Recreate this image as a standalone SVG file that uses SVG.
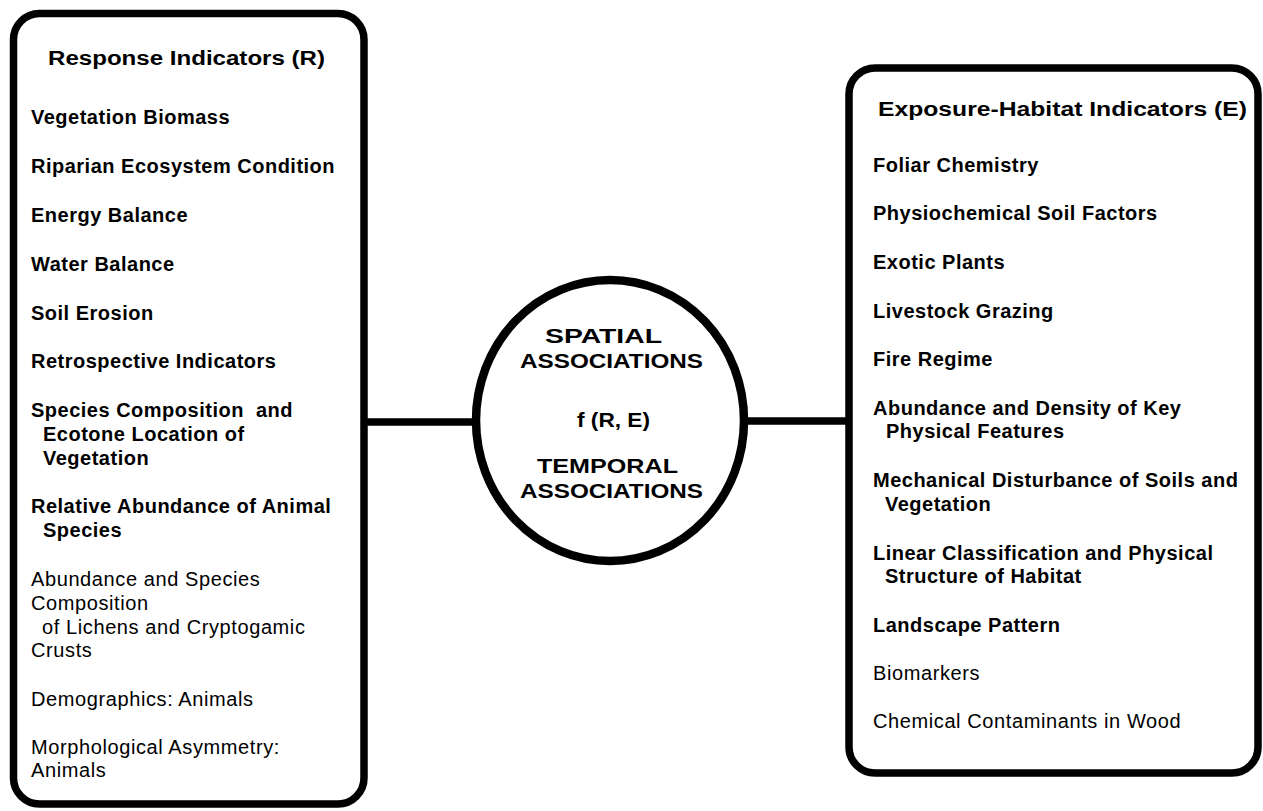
<svg xmlns="http://www.w3.org/2000/svg" width="1263" height="811" viewBox="0 0 1263 811">
  <style>
    .frame { fill: #ffffff; stroke: #000000; stroke-width: 7.5; }
    .hub { fill: #ffffff; stroke: #000000; stroke-width: 8.5; }
    .link { stroke: #000000; stroke-width: 7.5; fill: none; }
    text { font-family: "Liberation Sans", Arial, Helvetica, sans-serif; fill: #000000; }
    .title { font-size: 20px; font-weight: bold; }
    .item { font-size: 20px; font-weight: bold; letter-spacing: 0.5px; }
    .plain { font-size: 20px; font-weight: normal; letter-spacing: 0.6px; }
    .hubtext { font-size: 21px; font-weight: bold; }
    .keep { white-space: pre; }
  </style>
  <rect x="0" y="0" width="1263" height="811" fill="#ffffff"/>

  <!-- connectors between the indicator panels and the association hub -->
  <g id="connectors">
    <line class="link" x1="366" y1="422" x2="477" y2="422"/>
    <line class="link" x1="743" y1="421" x2="847" y2="421"/>
  </g>

  <!-- left panel: response indicators -->
  <g id="response-indicators">
    <rect class="frame" x="13.5" y="13.5" width="350.5" height="790.5" rx="26" ry="26"/>
    <text class="title" x="48" y="65" textLength="277" lengthAdjust="spacingAndGlyphs">Response Indicators (R)</text>
    <text class="item" x="31" y="124">Vegetation Biomass</text>
    <text class="item" x="31" y="173">Riparian Ecosystem Condition</text>
    <text class="item" x="31" y="222">Energy Balance</text>
    <text class="item" x="31" y="271">Water Balance</text>
    <text class="item" x="31" y="320">Soil Erosion</text>
    <text class="item" x="31" y="368">Retrospective Indicators</text>
    <text class="item keep" x="31" y="417">Species Composition  and</text>
    <text class="item" x="43" y="441">Ecotone Location of</text>
    <text class="item" x="43" y="465">Vegetation</text>
    <text class="item" x="31" y="513">Relative Abundance of Animal</text>
    <text class="item" x="43" y="537">Species</text>
    <text class="plain" x="31" y="586">Abundance and Species</text>
    <text class="plain" x="31" y="610">Composition</text>
    <text class="plain" x="42" y="634">of Lichens and Cryptogamic</text>
    <text class="plain" x="31" y="657">Crusts</text>
    <text class="plain" x="31" y="706">Demographics: Animals</text>
    <text class="plain" x="31" y="754">Morphological Asymmetry:</text>
    <text class="plain" x="31" y="777">Animals</text>
  </g>

  <!-- central hub: spatial and temporal associations -->
  <g id="associations">
    <ellipse class="hub" cx="610" cy="420.5" rx="134" ry="140.5"/>
    <text class="hubtext" x="545" y="343" textLength="117" lengthAdjust="spacingAndGlyphs">SPATIAL</text>
    <text class="hubtext" x="520" y="368" textLength="183" lengthAdjust="spacingAndGlyphs">ASSOCIATIONS</text>
    <text class="hubtext" x="577" y="427" textLength="73" lengthAdjust="spacingAndGlyphs">f (R, E)</text>
    <text class="hubtext" x="537" y="473" textLength="141" lengthAdjust="spacingAndGlyphs">TEMPORAL</text>
    <text class="hubtext" x="520" y="498" textLength="183" lengthAdjust="spacingAndGlyphs">ASSOCIATIONS</text>
  </g>

  <!-- right panel: exposure-habitat indicators -->
  <g id="exposure-habitat-indicators">
    <rect class="frame" x="849" y="68" width="409" height="705" rx="26" ry="26"/>
    <text class="title" x="878" y="116" textLength="369" lengthAdjust="spacingAndGlyphs">Exposure-Habitat Indicators (E)</text>
    <text class="item" x="873" y="172">Foliar Chemistry</text>
    <text class="item" x="873" y="220">Physiochemical Soil Factors</text>
    <text class="item" x="873" y="269">Exotic Plants</text>
    <text class="item" x="873" y="318">Livestock Grazing</text>
    <text class="item" x="873" y="366">Fire Regime</text>
    <text class="item" x="873" y="415">Abundance and Density of Key</text>
    <text class="item" x="886" y="438">Physical Features</text>
    <text class="item" x="873" y="487">Mechanical Disturbance of Soils and</text>
    <text class="item" x="885" y="511">Vegetation</text>
    <text class="item" x="873" y="560">Linear Classification and Physical</text>
    <text class="item" x="885" y="583">Structure of Habitat</text>
    <text class="item" x="873" y="632">Landscape Pattern</text>
    <text class="plain" x="873" y="680">Biomarkers</text>
    <text class="plain" x="873" y="728">Chemical Contaminants in Wood</text>
  </g>
</svg>
